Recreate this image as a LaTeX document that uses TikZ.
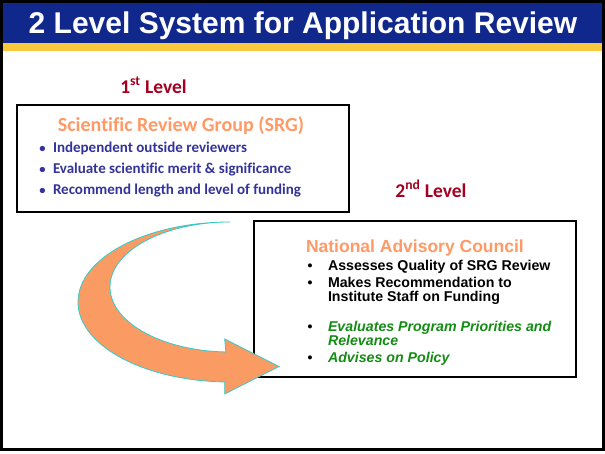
\documentclass[tikz,border=0pt]{standalone}
\usepackage{fontspec}
\setmainfont{Liberation Sans}
\newfontfamily\calib[Ligatures=NoCommon]{Carlito}
\definecolor{titleblue}{RGB}{16,40,140}
\definecolor{stripe}{RGB}{250,200,60}
\definecolor{lvlred}{RGB}{165,0,33}
\definecolor{headorange}{RGB}{255,153,102}
\definecolor{srgblue}{RGB}{51,51,153}
\definecolor{advgreen}{RGB}{20,140,20}
\definecolor{arrowfill}{RGB}{250,155,100}
\definecolor{arrowline}{RGB}{51,204,204}
\begin{document}
\begin{tikzpicture}[x=1pt,y=1pt,
  txt/.style={inner sep=0pt,outer sep=0pt},
  srgline/.style={txt,anchor=base west,text=srgblue,font=\calib\bfseries\fontsize{15}{18}\selectfont},
  srgbul/.style={txt,anchor=base,text=srgblue,font=\calib\bfseries\fontsize{12.5}{15}\selectfont},
  nacline/.style={txt,anchor=base west,font=\bfseries\fontsize{14.2}{15}\selectfont},
  nacgreen/.style={nacline,text=advgreen,font=\bfseries\itshape\fontsize{14.2}{15}\selectfont},
  nacbul/.style={txt,anchor=base,font=\bfseries\fontsize{14}{15}\selectfont},
  lvl/.style={txt,anchor=base,text=lvlred,font=\calib\bfseries\fontsize{19.5}{22}\selectfont},
  panel/.style={draw=black,line width=1.5pt,fill=white}]
\useasboundingbox (0,0) rectangle (605,454);
\fill[white] (0,0) rectangle (605,454);
% title bar
\fill[titleblue] (3,410.5) rectangle (602,451);
\fill[stripe] (3,403) rectangle (602,410.5);
\draw[line width=3pt] (1.5,4) rectangle (603,452.5);
\node[txt,anchor=base,text=white,font=\bfseries\fontsize{30}{34}\selectfont] (title) at (303,420.5) {2 Level System for Application Review};
% first level
\node[lvl] (lvl1) at (153.5,360.7) {1\textsuperscript{st} Level};
\draw[panel] (17,242) rectangle (349,349);
\node[txt,anchor=base,text=headorange,font=\calib\bfseries\fontsize{20}{24}\selectfont] (srgtitle) at (181,322.3) {Scientific Review Group (SRG)};
\node[srgbul] (sb1) at (42.5,301.3) {•};
\node[srgline] (s1) at (53,301.3) {Independent outside reviewers};
\node[srgbul] (sb2) at (42.5,280.7) {•};
\node[srgline] (s2) at (53,280.7) {Evaluate scientific merit \& significance};
\node[srgbul] (sb3) at (42.5,259) {•};
\node[srgline] (s3) at (53,259) {Recommend length and level of funding};
% second level
\node[lvl] (lvl2) at (431,256.7) {2\textsuperscript{nd} Level};
\draw[panel] (254,77) rectangle (576,233);
\node[txt,anchor=base west,text=headorange,font=\bfseries\fontsize{17.5}{20}\selectfont] (nactitle) at (306,201.3) {National Advisory Council};
\node[nacbul] (nb1) at (310,183.3) {•};
\node[nacline] (n1) at (328,183.3) {Assesses Quality of SRG Review};
\node[nacbul] (nb2) at (310,166.7) {•};
\node[nacline] (n2) at (328,166.7) {Makes Recommendation to};
\node[nacline] (n2b) at (328,152.3) {Institute Staff on Funding};
\node[nacbul] (nb3) at (310,122.3) {•};
\node[nacgreen] (n3) at (328,122.3) {Evaluates Program Priorities and};
\node[nacgreen] (n3b) at (328,108.3) {Relevance};
\node[nacbul] (nb4) at (310,91.3) {•};
\node[nacgreen] (n4) at (328,91.3) {Advises on Policy};
% curved arrow
\coordinate (tail) at (230,232);
\filldraw[fill=arrowfill,draw=arrowline,line width=0.8pt,line join=miter]
  (tail) arc[start angle=90,end angle=268,x radius=152,y radius=80]
  -- (224.7,60) -- (279,87.5) -- (224.7,115) -- (225.8,102.04)
  arc[start angle=268,end angle=90,x radius=120,y radius=65] -- cycle;
\end{tikzpicture}
\end{document}
